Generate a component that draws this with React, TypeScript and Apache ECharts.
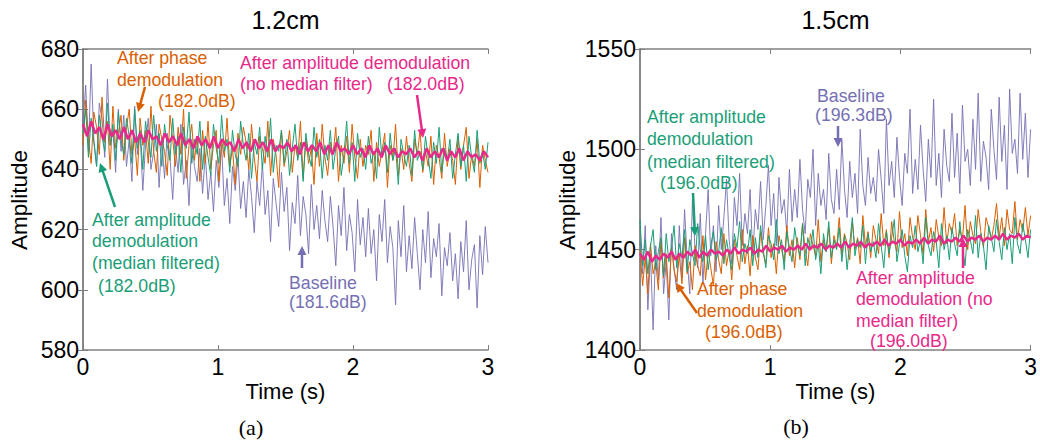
import React, { useEffect, useRef } from "react";
import * as echarts from "echarts";

// ---------- data ----------
const timeMax = 3;

// Panel (a) 1.2cm
const aBaseline = [
  655, 668, 646, 675, 650, 641, 662, 657, 644, 670, 648, 653, 639, 660, 646,
  658, 641, 650, 636, 661, 645, 652, 633, 648, 657, 640, 646, 655, 634, 650,
  637, 652, 644, 630, 648, 639, 655, 635, 643, 628, 650, 641, 636, 647, 632,
  645, 630, 639, 626, 643, 634, 648, 628, 637, 622, 641, 633, 644, 627, 636,
  624, 640, 631, 619, 636, 628, 642, 625, 633, 616, 637, 629, 621, 639, 626,
  634, 613, 629, 622, 638, 618, 631, 625, 612, 635, 620, 628, 617, 633, 623,
  616, 631, 621, 608, 628, 618, 634, 613, 625, 619, 606, 630, 615, 624, 611,
  627, 612, 620, 603, 625, 616, 630, 609, 621, 614, 595, 623, 611, 628, 606,
  618, 607, 624, 612, 600, 620, 609, 626, 604, 617, 611, 622, 598, 614, 608,
  619, 603, 612, 597, 616, 606, 623, 600, 610, 615, 594, 618, 605, 621, 609,
];
const aPhase = [
  648, 663, 650, 642, 659, 654, 645, 664, 649, 656, 640, 661, 647, 652, 658,
  643, 654, 660, 645, 650, 638, 657, 648, 653, 642, 661, 646, 639, 655, 650,
  646, 638, 658, 650, 641, 654, 645, 660, 637, 648, 655, 643, 651, 636, 653,
  642, 656, 640, 648, 653, 636, 650, 644, 657, 641, 647, 635, 652, 645, 654,
  649, 640, 655, 644, 636, 651, 647, 642, 656, 638, 650, 645, 634, 653, 641,
  646, 653, 639, 648, 644, 656, 637, 650, 642, 647, 635, 652, 641, 655, 644,
  638, 649, 645, 654, 636, 648, 642, 651, 639, 655, 644, 637, 650, 641, 648,
  645, 653, 636, 649, 641, 646, 652, 634, 648, 643, 655, 638, 647, 640, 651,
  642, 636, 650, 645, 653, 639, 646, 641, 651, 635, 648, 644, 637, 652, 641,
  647, 643, 635, 651, 640, 648, 654, 637, 645, 641, 650, 634, 648, 643, 639,
];
const aAmpMedian = [
  652, 660, 644, 657, 649, 641, 658, 651, 646, 662, 648, 655, 643, 659, 650,
  645, 657, 651, 642, 660, 647, 653, 640, 656, 649, 644, 658, 646, 652, 641,
  655, 648, 643, 657, 645, 651, 639, 654, 647, 659, 642, 650, 645, 656, 640,
  651, 644, 638, 655, 647, 642, 658, 646, 650, 639, 653, 645, 641, 656, 648,
  643, 652, 637, 649, 645, 654, 640, 651, 644, 657, 639, 648, 646, 653, 642,
  650, 638, 647, 655, 643, 649, 636, 652, 645, 641, 654, 644, 650, 637, 648,
  643, 653, 640, 647, 651, 638, 645, 656, 642, 649, 636, 652, 644, 647, 640,
  651, 642, 646, 637, 654, 644, 649, 639, 652, 643, 647, 635, 650, 645, 641,
  648, 638, 653, 643, 646, 640, 651, 644, 637, 649, 642, 654, 639, 647, 643,
  650, 637, 645, 652, 641, 648, 636, 651, 644, 639, 653, 642, 646, 640, 649,
];
const aAmpNoMedian = [
  655, 651, 656, 652, 654, 650, 655, 651, 653, 650,
  654, 650, 653, 649, 652, 649, 653, 650, 651, 648,
  652, 649, 651, 648, 652, 648, 650, 647, 651, 648,
  650, 647, 651, 647, 650, 648, 649, 646, 650, 647,
  649, 646, 650, 647, 649, 646, 650, 646, 648, 647,
  649, 646, 648, 645, 649, 646, 648, 646, 649, 645,
  648, 645, 649, 646, 647, 645, 648, 645, 647, 644,
  648, 645, 647, 644, 648, 645, 647, 644, 646, 645,
  647, 644, 646, 643, 647, 644, 646, 644, 647, 643,
  646, 644, 647, 643, 646, 644, 645, 643, 646, 644,
];

// Panel (b) 1.5cm
const bBaseline = [
  1455, 1438, 1462, 1420, 1448, 1410, 1452, 1435, 1466, 1428, 1444, 1415, 1458, 1440, 1430,
  1462, 1436, 1470, 1445, 1428, 1475, 1450, 1441, 1468, 1433, 1458, 1480, 1447, 1462, 1439,
  1472, 1450, 1466, 1485, 1455, 1443, 1476, 1462, 1488, 1452, 1468, 1458, 1480, 1447, 1470,
  1460, 1484, 1455, 1472, 1492, 1462, 1478, 1452, 1486, 1468, 1475, 1458, 1490, 1464, 1480,
  1466, 1495, 1470, 1458, 1485, 1476, 1500, 1462, 1488, 1472, 1480, 1465, 1498, 1475, 1468,
  1490, 1470, 1505, 1480, 1466, 1494, 1476, 1488, 1468, 1510, 1482, 1472, 1496, 1478, 1486,
  1474, 1500, 1485, 1468, 1515, 1482, 1494, 1476, 1506, 1486, 1472, 1498, 1488, 1520, 1478,
  1495, 1480, 1512, 1490, 1474, 1505, 1486, 1525, 1482, 1498, 1476, 1510, 1492, 1484, 1518,
  1486, 1508, 1478, 1522, 1494, 1500, 1482, 1515, 1490, 1528, 1484, 1504, 1496, 1480, 1520,
  1500, 1485, 1526, 1494, 1512, 1480, 1530, 1498, 1505, 1488, 1528, 1495, 1518, 1486, 1510,
];
const bPhase = [
  1450, 1432, 1446, 1428, 1453, 1438, 1444, 1430, 1455, 1436, 1448, 1426, 1451, 1440, 1434,
  1447, 1433, 1456, 1438, 1444, 1430, 1452, 1442, 1437, 1457, 1435, 1449, 1441, 1432, 1454,
  1445, 1438, 1458, 1442, 1450, 1435, 1455, 1447, 1440, 1460, 1443, 1452, 1437, 1457, 1446,
  1440, 1459, 1448, 1443, 1461, 1446, 1453, 1438, 1457, 1450, 1444, 1462, 1447, 1455, 1441,
  1456, 1445, 1463, 1450, 1442, 1458, 1452, 1447, 1465, 1444, 1455, 1449, 1461, 1443, 1457,
  1451, 1466, 1447, 1458, 1453, 1445, 1464, 1450, 1456, 1443, 1467, 1452, 1459, 1446, 1462,
  1455, 1448, 1468, 1452, 1460, 1446, 1464, 1454, 1449, 1469, 1451, 1458, 1447, 1466, 1456,
  1450, 1467, 1457, 1448, 1470, 1454, 1461, 1449, 1465, 1456, 1452, 1471, 1453, 1463, 1458,
  1468, 1452, 1460, 1455, 1472, 1450, 1464, 1457, 1453, 1470, 1459, 1451, 1466, 1461, 1455,
  1462, 1473, 1456, 1466, 1452, 1470, 1460, 1458, 1474, 1455, 1465, 1459, 1471, 1457, 1467,
];
const bAmpMedian = [
  1465, 1442, 1455, 1438, 1452, 1460, 1440, 1449, 1456, 1437, 1458, 1444, 1451, 1462, 1441,
  1453, 1446, 1460, 1439, 1455, 1448, 1442, 1463, 1450, 1444, 1457, 1440, 1452, 1459, 1445,
  1449, 1461, 1443, 1455, 1447, 1440, 1458, 1451, 1464, 1444, 1453, 1448, 1460, 1442, 1456,
  1446, 1462, 1450, 1441, 1457, 1453, 1445, 1465, 1448, 1455, 1440, 1459, 1451, 1444, 1461,
  1452, 1447, 1463, 1442, 1456, 1450, 1460, 1445, 1453, 1438, 1458, 1449, 1464, 1446, 1455,
  1450, 1461, 1444, 1457, 1440, 1453, 1466, 1447, 1455, 1451, 1462, 1443, 1458, 1449, 1454,
  1446, 1463, 1452, 1441, 1459, 1448, 1456, 1465, 1444, 1453, 1460, 1447, 1439, 1457, 1451,
  1462, 1449, 1455, 1443, 1466, 1452, 1447, 1459, 1454, 1441, 1463, 1450, 1457, 1445, 1461,
  1453, 1447, 1464, 1451, 1442, 1460, 1455, 1448, 1467, 1446, 1458, 1452, 1440, 1462, 1456,
  1449, 1465, 1454, 1445, 1461, 1450, 1458, 1443, 1466, 1453, 1448, 1463, 1455, 1446, 1460,
];
const bAmpNoMedian = [
  1448, 1445, 1449, 1444, 1447, 1445, 1448, 1446, 1449, 1445,
  1448, 1446, 1449, 1447, 1450, 1446, 1449, 1447, 1450, 1448,
  1449, 1447, 1450, 1448, 1451, 1448, 1450, 1449, 1451, 1448,
  1450, 1449, 1452, 1449, 1451, 1450, 1452, 1449, 1451, 1450,
  1452, 1450, 1453, 1450, 1452, 1451, 1453, 1450, 1452, 1451,
  1453, 1451, 1454, 1451, 1453, 1452, 1454, 1451, 1453, 1452,
  1454, 1452, 1455, 1452, 1454, 1453, 1455, 1452, 1454, 1453,
  1455, 1453, 1456, 1453, 1455, 1454, 1457, 1453, 1455, 1454,
  1456, 1454, 1457, 1454, 1456, 1455, 1457, 1454, 1456, 1455,
  1457, 1455, 1458, 1455, 1457, 1456, 1458, 1455, 1457, 1456,
];

const panelTitles = ["1.2cm", "1.5cm"];
const panelLetters = ["(a)", "(b)"];
const yRanges = [
  { min: 580, max: 680, interval: 20 },
  { min: 1400, max: 1550, interval: 50 },
];

// ---------- styling ----------
const C_GREEN = "#1B9E77";
const C_ORANGE = "#D95F02";
const C_PURPLE = "#7570B3";
const C_PINK = "#E7298A";
const FONT = '"Liberation Sans", Arial, Helvetica, sans-serif';
const SERIF = '"Liberation Serif", "Times New Roman", serif';

const toPairs = (arr: number[]) =>
  arr.map((v, i) => [(i * timeMax) / (arr.length - 1), v]);

function arrow(x1: number, y1: number, x2: number, y2: number, color: string) {
  const dx = x2 - x1;
  const dy = y2 - y1;
  const L = Math.hypot(dx, dy);
  const ux = dx / L;
  const uy = dy / L;
  const hl = 9;
  const hw = 4.5;
  const bx = x2 - ux * hl;
  const by = y2 - uy * hl;
  return [
    {
      type: "line",
      shape: { x1, y1, x2: bx + ux, y2: by + uy },
      style: { stroke: color, lineWidth: 2.5 },
      z: 100,
    },
    {
      type: "polygon",
      shape: {
        points: [
          [x2, y2],
          [bx - uy * hw, by + ux * hw],
          [bx + uy * hw, by - ux * hw],
        ],
      },
      style: { fill: color },
      z: 100,
    },
  ];
}

function label(x: number, y: number, text: string, color: string, size = 17.7, align = "left", family = FONT) {
  return {
    type: "text",
    x,
    y,
    z: 100,
    style: {
      text,
      fill: color,
      fontSize: size,
      fontFamily: family,
      align,
      verticalAlign: "middle",
    },
  };
}

export default function App() {
  const ref = useRef<HTMLDivElement>(null);
  useEffect(() => {
    if (!ref.current) return;
    const chart = echarts.init(ref.current, null, { renderer: "svg" });

    const grids = [
      { left: 83, top: 49, width: 405, height: 301 },
      { left: 640, top: 49, width: 391, height: 301 },
    ];

    const frame = { show: true, lineStyle: { color: "#808080", width: 1.5 } };
    const tick = { inside: true, length: 5, lineStyle: { color: "#808080" } };
    const xAxes: any[] = [];
    const yAxes: any[] = [];
    [0, 1].forEach((g) => {
      xAxes.push({
        type: "value", gridIndex: g, min: 0, max: timeMax, interval: 1, position: "bottom",
        axisLine: frame, axisTick: tick, splitLine: { show: false },
        axisLabel: { color: "#000", fontSize: 23, fontFamily: FONT, margin: 5 },
      });
      xAxes.push({
        type: "value", gridIndex: g, min: 0, max: timeMax, interval: 1, position: "top",
        axisLine: frame, axisTick: tick, splitLine: { show: false }, axisLabel: { show: false },
      });
      yAxes.push({
        type: "value", gridIndex: g, min: yRanges[g].min, max: yRanges[g].max,
        interval: yRanges[g].interval, position: "left",
        axisLine: frame, axisTick: tick, splitLine: { show: false },
        axisLabel: { color: "#000", fontSize: 23, fontFamily: FONT, margin: 4, formatter: (v: number) => String(v) },
      });
      yAxes.push({
        type: "value", gridIndex: g, min: yRanges[g].min, max: yRanges[g].max,
        interval: yRanges[g].interval, position: "right",
        axisLine: frame, axisTick: tick, splitLine: { show: false }, axisLabel: { show: false },
      });
    });

    const mk = (data: number[], g: number, color: string, width: number, opacity = 1) => ({
      type: "line",
      xAxisIndex: g * 2,
      yAxisIndex: g * 2,
      data: toPairs(data),
      showSymbol: false,
      symbol: "none",
      lineStyle: { color, width, opacity },
      silent: true,
    });

    const graphic: any[] = [];
    const centers = [285.5, 835.5];
    [0, 1].forEach((g) => {
      graphic.push(label(centers[g], 20, panelTitles[g], "#000", 25, "center"));
      graphic.push(label(centers[g], 391, "Time (s)", "#000", 22, "center"));
    });
    graphic.push(label(251, 427, panelLetters[0], "#000", 22, "center", SERIF));
    graphic.push(label(796, 426, panelLetters[1], "#000", 22, "center", SERIF));
    [19, 567].forEach((x) => {
      graphic.push({
        type: "text",
        x,
        y: 200,
        rotation: Math.PI / 2,
        style: { text: "Amplitude", fill: "#000", fontSize: 22.5, fontFamily: FONT, align: "center", verticalAlign: "middle" },
      });
    });

    // panel (a) annotations
    graphic.push(label(117, 58, "After phase", C_ORANGE));
    graphic.push(label(117, 80, "demodulation", C_ORANGE));
    graphic.push(label(158, 101, "(182.0dB)", C_ORANGE));
    graphic.push(...arrow(145, 87, 138, 112, C_ORANGE));

    graphic.push(label(240, 63, "After amplitude demodulation", C_PINK));
    graphic.push(label(240, 84, "(no median filter)", C_PINK));
    graphic.push(label(387, 84, "(182.0dB)", C_PINK));
    graphic.push(...arrow(417, 95, 423, 138, C_PINK));

    graphic.push(label(92, 220, "After amplitude", C_GREEN));
    graphic.push(label(92, 241, "demodulation", C_GREEN));
    graphic.push(label(92, 263, "(median filtered)", C_GREEN));
    graphic.push(label(98, 286, "(182.0dB)", C_GREEN));
    graphic.push(...arrow(115, 207, 100, 163, C_GREEN));

    graphic.push(label(289, 283, "Baseline", C_PURPLE));
    graphic.push(label(289, 302, "(181.6dB)", C_PURPLE));
    graphic.push(...arrow(302, 268, 302, 246, C_PURPLE));

    // panel (b) annotations
    graphic.push(label(817, 96, "Baseline", C_PURPLE));
    graphic.push(label(815, 115, "(196.3dB)", C_PURPLE));
    graphic.push(...arrow(838, 126, 838, 147, C_PURPLE));

    graphic.push(label(647, 117, "After amplitude", C_GREEN));
    graphic.push(label(647, 139, "demodulation", C_GREEN));
    graphic.push(label(647, 162, "(median filtered)", C_GREEN));
    graphic.push(label(660, 183, "(196.0dB)", C_GREEN));
    graphic.push(...arrow(693, 193, 695, 236, C_GREEN));

    graphic.push(label(697, 289, "After phase", C_ORANGE));
    graphic.push(label(697, 311, "demodulation", C_ORANGE));
    graphic.push(label(705, 332, "(196.0dB)", C_ORANGE));
    graphic.push(...arrow(697, 313, 676, 283, C_ORANGE));

    graphic.push(label(856, 278, "After amplitude", C_PINK));
    graphic.push(label(856, 299, "demodulation (no", C_PINK));
    graphic.push(label(856, 321, "median filter)", C_PINK));
    graphic.push(label(870, 341, "(196.0dB)", C_PINK));
    graphic.push(...arrow(963, 268, 963, 238, C_PINK));

    chart.setOption({
      animation: false,
      grid: grids,
      xAxis: xAxes,
      yAxis: yAxes,
      series: [
        mk(aBaseline, 0, C_PURPLE, 1, 0.9),
        mk(aPhase, 0, C_ORANGE, 1),
        mk(aAmpMedian, 0, C_GREEN, 1),
        mk(aAmpNoMedian, 0, C_PINK, 2.5),
        mk(bBaseline, 1, C_PURPLE, 1, 0.9),
        mk(bPhase, 1, C_ORANGE, 1),
        mk(bAmpMedian, 1, C_GREEN, 1),
        mk(bAmpNoMedian, 1, C_PINK, 2.5),
      ],
      graphic,
    });
    return () => chart.dispose();
  }, []);

  return (
    <div
      ref={ref}
      style={{ position: "fixed", left: 0, top: 0, width: 1040, height: 442, background: "#fff" }}
    />
  );
}
